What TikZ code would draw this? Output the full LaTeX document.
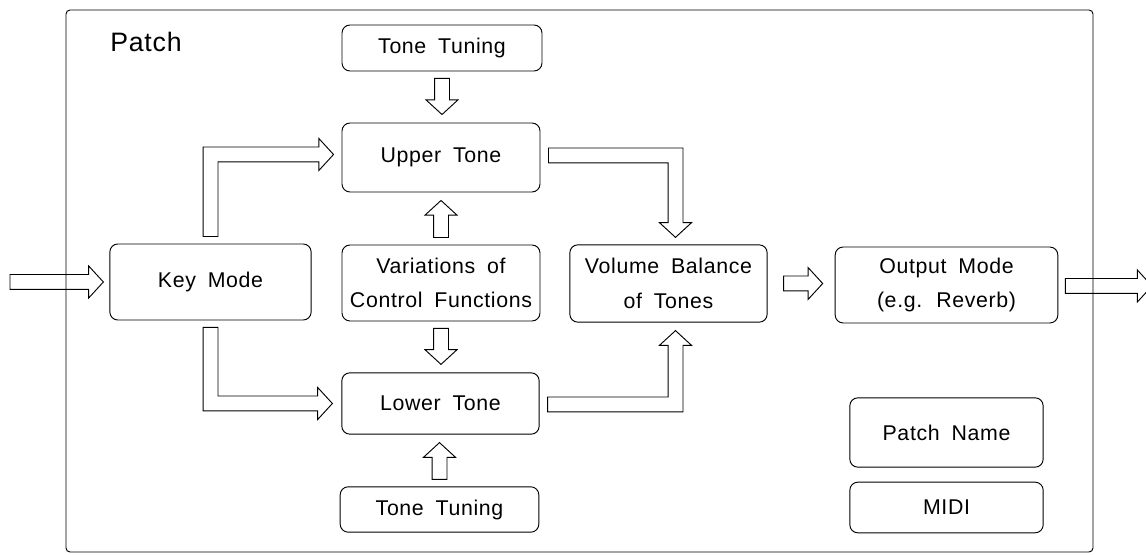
\documentclass[tikz,border=0pt]{standalone}
\usepackage{fontspec}
\setmainfont{Liberation Sans}[LetterSpace=3,WordSpace=1.8]
\usetikzlibrary{calc}
\newcommand\arSW{5.6pt}
\newcommand\arHW{12pt}
\newcommand\arHL{11pt}
% straight horizontal block arrow
\newcommand\harr[2]{\draw[blk] let \p1=(#1),\p2=(#2),\n1={sign(\x2-\x1)} in
 (\x1,{\y1+\arSW}) -- ({\x2-(\n1)*\arHL},{\y1+\arSW}) -- ({\x2-(\n1)*\arHL},{\y1+\arHW}) -- (\x2,\y1)
 -- ({\x2-(\n1)*\arHL},{\y1-\arHW}) -- ({\x2-(\n1)*\arHL},{\y1-\arSW}) -- (\x1,{\y1-\arSW}) -- cycle;}
% straight vertical block arrow
\newcommand\varr[2]{\draw[blk] let \p1=(#1),\p2=(#2),\n1={sign(\y2-\y1)} in
 ({\x1+\arSW},\y1) -- ({\x1+\arSW},{\y2-(\n1)*\arHL}) -- ({\x1+\arHW},{\y2-(\n1)*\arHL}) -- (\x1,\y2)
 -- ({\x1-\arHW},{\y2-(\n1)*\arHL}) -- ({\x1-\arSW},{\y2-(\n1)*\arHL}) -- ({\x1-\arSW},\y1) -- cycle;}
% vertical then horizontal
\newcommand\vharr[2]{\draw[blk] let \p1=(#1),\p2=(#2),\n1={sign(\x2-\x1)},\n2={sign(\y2-\y1)} in
 ({\x1-(\n1)*\arSW},\y1) -- ({\x1-(\n1)*\arSW},{\y2+(\n2)*\arSW}) -- ({\x2-(\n1)*\arHL},{\y2+(\n2)*\arSW})
 -- ({\x2-(\n1)*\arHL},{\y2+(\n2)*\arHW}) -- (\x2,\y2) -- ({\x2-(\n1)*\arHL},{\y2-(\n2)*\arHW})
 -- ({\x2-(\n1)*\arHL},{\y2-(\n2)*\arSW}) -- ({\x1+(\n1)*\arSW},{\y2-(\n2)*\arSW}) -- ({\x1+(\n1)*\arSW},\y1) -- cycle;}
% horizontal then vertical
\newcommand\hvarr[2]{\draw[blk] let \p1=(#1),\p2=(#2),\n1={sign(\x2-\x1)},\n2={sign(\y2-\y1)} in
 (\x1,{\y1-(\n2)*\arSW}) -- ({\x2+(\n1)*\arSW},{\y1-(\n2)*\arSW}) -- ({\x2+(\n1)*\arSW},{\y2-(\n2)*\arHL})
 -- ({\x2+(\n1)*\arHW},{\y2-(\n2)*\arHL}) -- (\x2,\y2) -- ({\x2-(\n1)*\arHW},{\y2-(\n2)*\arHL})
 -- ({\x2-(\n1)*\arSW},{\y2-(\n2)*\arHL}) -- ({\x2-(\n1)*\arSW},{\y1+(\n2)*\arSW}) -- (\x1,{\y1+(\n2)*\arSW}) -- cycle;}
\begin{document}
\begin{tikzpicture}[x=0.75pt,y=-0.75pt,
  box/.style={draw, line width=0.7pt, rounded corners=6pt, align=center, inner sep=0pt,
     font=\fontsize{16}{26}\selectfont},
  blk/.style={draw, line width=0.7pt, line join=miter},
  frame/.style={draw, line width=0.7pt, rounded corners=3pt, inner sep=0pt}]
\useasboundingbox (0,0) rectangle (1146,555);
\node[frame, minimum width=770.25pt, minimum height=406.5pt] (patchframe) at (579.5,281) {};
\node[anchor=west, inner sep=0pt, font=\fontsize{20}{24}\selectfont] (patchlbl) at (110,42) {Patch};

\node[box, minimum width=150pt, minimum height=34.5pt] (tt1) at (442,48) {Tone Tuning};
\node[box, minimum width=148.5pt, minimum height=51.75pt] (upper) at (441,157.5) {Upper Tone};
\node[box, minimum width=148.5pt, minimum height=57pt] (var) at (441,283) {Variations of\\Control Functions};
\node[box, minimum width=148pt, minimum height=46pt] (lower) at (440.5,403.5) {Lower Tone};
\node[box, minimum width=149pt, minimum height=34pt] (tt2) at (439.5,509.5) {Tone Tuning};
\node[box, minimum width=151pt, minimum height=57pt] (key) at (210.5,282) {Key Mode};
\node[box, minimum width=148pt, minimum height=58pt] (vol) at (668.5,283.5) {Volume Balance\\of Tones};
\node[box, minimum width=167pt, minimum height=57pt] (out) at (946.5,285) {Output Mode\\(e.g. Reverb)};
\node[box, minimum width=145pt, minimum height=52pt] (pname) at (946.5,432.5) {Patch Name};
\node[box, minimum width=145pt, minimum height=38pt] (midi) at (946.5,507.5) {MIDI};

\coordinate (inpt) at (10,282);
\coordinate (outend) at (1152,286);

\harr{inpt}{$(key.west)+(-6,0)$}
\vharr{$(key.north)+(0,-7)$}{$(upper.west)+(-8,-3)$}
\vharr{$(key.south)+(0,7)$}{$(lower.west)+(-9,0)$}
\varr{$(tt1.south)+(0,7)$}{$(upper.north)+(0,-8)$}
\varr{$(var.north)+(0,-7)$}{$(upper.south)+(0,8)$}
\varr{$(var.south)+(0,7)$}{$(lower.north)+(0,-8)$}
\varr{$(tt2.north)+(0,-7)$}{$(lower.south)+(0,8)$}
\hvarr{$(upper.east)+(8,-2)$}{$(vol.north)+(7,-7)$}
\hvarr{$(lower.east)+(8,1)$}{$(vol.south)+(7,8)$}
\harr{$(vol.east)+(16,0)$}{$(out.west)+(-12,0)$}
\harr{$(out.east)+(7,1)$}{outend}
\end{tikzpicture}
\end{document}
